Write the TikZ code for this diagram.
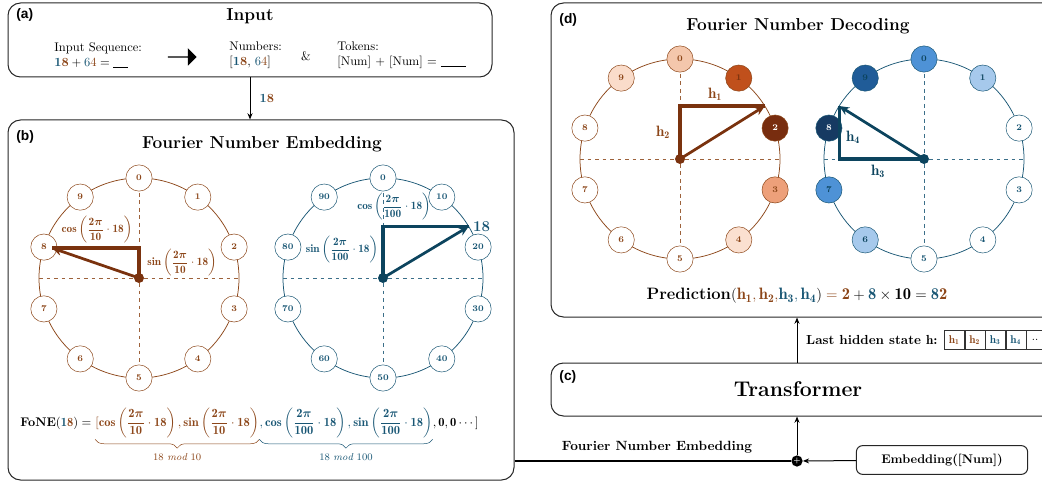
\documentclass[tikz,border=0pt]{standalone}
\usepackage{fontspec}
\usepackage{amsmath}
\newfontfamily\tagfont{Liberation Sans}
\usepackage{xcolor}
\usetikzlibrary{shapes,positioning,fit,calc,arrows.meta,decorations.pathreplacing}

\definecolor{brn}{RGB}{140,70,25}
\definecolor{brndk}{RGB}{122,50,14}
\definecolor{tel}{RGB}{24,86,116}
\definecolor{teldk}{RGB}{12,68,94}
% fills of the decoding rings
\definecolor{bf0}{RGB}{244,199,172}
\definecolor{bf1}{RGB}{192,80,28}
\definecolor{bf2}{RGB}{120,45,15}
\definecolor{bf3}{RGB}{237,160,122}
\definecolor{bf4}{RGB}{251,224,208}
\definecolor{bf9}{RGB}{250,220,202}
\definecolor{tf0}{RGB}{78,146,214}
\definecolor{tf1}{RGB}{166,201,236}
\definecolor{tf8}{RGB}{22,58,98}
\definecolor{tf9}{RGB}{32,92,152}

\newcommand{\hvec}[1]{\mathbf{h}_{\mathbf{#1}}}
% cos/sin term, #1 = cos or sin, #2 = period
\newcommand{\dtrig}[2]{\mathbf{#1}\left(\dfrac{\mathbf{2}\boldsymbol{\pi}}{\mathbf{#2}}\cdot\mathbf{18}\right)}

\begin{document}
\begin{tikzpicture}[x=0.8pt,y=-0.8pt,>={Stealth[length=5pt,width=4pt]},%
		panel/.style={draw=black!85,thick,rounded corners=10pt,inner sep=0pt},
		tag/.style={anchor=west,font=\tagfont\bfseries\fontsize{11}{13}\selectfont},
		title/.style={font=\bfseries\fontsize{13.8}{16}\selectfont},
		num/.style={circle,draw=#1,text=#1,fill=white,minimum size=21pt,inner sep=0pt,font=\scriptsize\bfseries},
		ring/.style={draw=#1,semithick},
		axis/.style={dashed,#1!85,semithick},
		vec/.style={->,#1,line width=2.2pt,>={Stealth[length=8pt,width=7pt]}},
		leg/.style={#1,line width=2.6pt},
		hub/.style={circle,fill=#1,minimum size=8pt,inner sep=0pt},
		fone/.style={inner sep=0pt},
		hbox/.style={draw=black!80,minimum width=16pt,minimum height=15pt,inner sep=0pt,font=\small},
		link/.style={->,thick}]

	\useasboundingbox (0,0) rectangle (1042,485);
	\clip (0,0) rectangle (1042,485);

	% (a) input
	\node[panel,fit={(8,3) (492,77)}] (inp) {};
	\node[tag] at (12,15) {(a)};
	\node[title] at (250,16) {Input};
	\node[align=left,anchor=west] (seq) at (50,55) {Input Sequence:\\ \textbf{\textcolor{tel}{1}\textcolor{brn}{8}}${}+{}$\textcolor{tel}{6}\textcolor{brn}{4}${}={}$\rule[-1pt]{12pt}{0.5pt}};
	\node[single arrow,fill=black,minimum height=23pt,minimum width=14pt,single arrow head extend=3pt,inner sep=0pt] (go) at (182,57) {};
	\node[align=left,anchor=west] (nums) at (225,55) {Numbers:\\ {[}\textbf{\textcolor{tel}{1}\textcolor{brn}{8}}, \textcolor{tel}{6}\textcolor{brn}{4}{]}};
	\node (amp) at (306,56) {\&};
	\node[align=left,anchor=west] (toks) at (333,55) {Tokens:\\ {[}Num{]} + {[}Num{]} = \rule[-1pt]{20pt}{0.5pt}};

	% (b) embedding
	\node[panel,fit={(8,120) (514,480)}] (emb) {};
	\draw[link] (inp.south) -- (inp.south |- emb.north) node[midway,right=4pt,font=\bfseries] {\textcolor{tel}{1}\textcolor{brn}{8}};
	\node[tag] at (12,137) {(b)};
	\node[title] at (262,144) {Fourier Number Embedding};

	\coordinate (LC) at (139,278);
	\draw[ring=brn] (LC) circle[radius=100];
	\draw[axis=brn] ($(LC)+(-100,0)$) -- ($(LC)+(100,0)$);
	\draw[axis=brn] ($(LC)+(0,-100)$) -- ($(LC)+(0,100)$);
	\foreach \k in {0,...,9}
		\node[num=brn] (L\k) at ($(LC)+(36*\k-90:100)$) {\k};
	\coordinate (LT) at ($(LC)+(-161:92)$);
	\draw[leg=brndk] (LC) -- (LC |- LT) -- (LT);
	\draw[vec=brndk] (LC) -- (LT);
	\node[hub=brndk] at (LC) {};
	\node[text=brn,font=\small] (lcos) at (97,230) {$\dtrig{cos}{10}$};
	\node[text=brn,font=\small] (lsin) at (182,263) {$\dtrig{sin}{10}$};

	\coordinate (RC) at (383,278);
	\draw[ring=tel] (RC) circle[radius=100];
	\draw[axis=tel] ($(RC)+(-100,0)$) -- ($(RC)+(100,0)$);
	\draw[axis=tel] ($(RC)+(0,-100)$) -- ($(RC)+(0,100)$);
	\foreach \k in {0,...,9} {
		\pgfmathtruncatemacro\t{10*\k}
		\node[num=tel] (R\k) at ($(RC)+(36*\k-90:100)$) {\t};
	}
	\coordinate (RT) at ($(RC)+(-31:100)$);
	\draw[leg=teldk] (RC) -- (RC |- RT) -- (RT);
	\draw[vec=teldk] (RC) -- (RT);
	\node[hub=teldk] at (RC) {};
	\node[text=tel,font=\bfseries\large,right=0pt of RT] {18};
	\node[text=tel,font=\small] (rcos) at (394,207) {$\dtrig{cos}{100}$};
	\node[text=tel,font=\small] (rsin) at (342,250) {$\dtrig{sin}{100}$};

	% FoNE vector, one node per colour
	\node[fone,anchor=base west] (p0) at (20,426) {\textbf{FoNE}$(\textcolor{tel}{\mathbf{1}}\textcolor{brn}{\mathbf{8}}) = {}$};
	\node[fone,text=brn,anchor=base west] (p1) at (p0.base east) {$[\dtrig{cos}{10}, \dtrig{sin}{10}$};
	\node[fone,text=tel,anchor=base west] (p2) at (p1.base east) {$,\dtrig{cos}{100}, \dtrig{sin}{100}$};
	\node[fone,anchor=base west] (p3) at (p2.base east) {$, \mathbf{0}, \mathbf{0}\cdots]$};
	\draw[brn,decorate,decoration={brace,mirror,amplitude=7pt}] ([yshift=-1pt]p1.south west) -- ([yshift=-1pt]p1.south east)
		node[midway,below=8pt,font=\footnotesize] {$18\ \mathit{mod}\ 10$};
	\draw[tel,decorate,decoration={brace,mirror,amplitude=7pt}] ([yshift=-1pt]p2.south west) -- ([yshift=-1pt]p2.south east)
		node[midway,below=8pt,font=\footnotesize] {$18\ \mathit{mod}\ 100$};

	% (c) transformer
	\node[panel,fit={(551,363) (1060,416)}] (trf) {};
	\node[tag] at (555,377) {(c)};
	\node[font=\bfseries\fontsize{17}{20}\selectfont] at (798,389) {Transformer};

	\node[circle,fill=black,minimum size=9pt,inner sep=0pt,text=white,font=\tiny\bfseries] (plus) at (797,461) {+};
	\node[draw=black!85,thick,rounded corners=5pt,minimum width=137pt,minimum height=23pt,font=\bfseries] (numemb) at (942,460) {Embedding([Num])};
	\draw[line width=1.6pt] (emb.east |- plus) -- (plus);
	\node[font=\bfseries\fontsize{10.7}{13}\selectfont] at (657,447) {Fourier Number Embedding};
	\draw[link] (numemb) -- (plus);
	\draw[link] (plus) -- (plus |- trf.south);

	% (d) decoding
	\node[panel,fit={(551,3) (1060,317)}] (dec) {};
	\draw[link] (trf.north -| plus) -- (dec.south -| plus);
	\node[font=\bfseries\fontsize{10.5}{13}\selectfont,anchor=east] (lhs) at (942,340) {Last hidden state $\mathbf{h}$:};
	\foreach \c [count=\i] in {brn,brn,tel,tel} {
		\ifnum\i=1 \node[hbox,anchor=west](h\i) at (944,340) {\color{\c}$\hvec{\i}$};
		\else\node[hbox,right=0pt of h\z](h\i) {\color{\c}$\hvec{\i}$};
		\fi
		\global\let\z=\i% for chaining the boxes
	}
	\node[hbox,right=0pt of h4,minimum width=14pt] (h5) {..};

	\node[tag] at (555,20) {(d)};
	\node[title] at (798,26) {Fourier Number Decoding};

	\coordinate (DL) at (680,159);
	\draw[ring=brn] (DL) circle[radius=100];
	\draw[axis=brn] ($(DL)+(-100,0)$) -- ($(DL)+(100,0)$);
	\draw[axis=brn] ($(DL)+(0,-100)$) -- ($(DL)+(0,100)$);
	\foreach \k/\f/\t in {0/bf0/brn,1/bf1/brndk,2/bf2/white,3/bf3/brn,4/bf4/brn,5/white/brn,6/white/brn,7/white/brn,8/white/brn,9/bf9/brn}
		\node[num=brn,fill=\f,text=\t] (DL\k) at ($(DL)+(36*\k-90:100)$) {\k};
	\coordinate (DLT) at ($(DL)+(-32:100)$);
	\draw[leg=brndk] (DL) -- (DL |- DLT) -- (DLT);
	\draw[vec=brndk] (DL) -- (DLT);
	\node[hub=brndk] at (DL) {};
	\node[text=brn,font=\large] (h1lab) at (715,94) {$\hvec{1}$};
	\node[text=brn,font=\large] (h2lab) at (663,132) {$\hvec{2}$};

	\coordinate (DR) at (924,159);
	\draw[ring=tel] (DR) circle[radius=100];
	\draw[axis=tel] ($(DR)+(-100,0)$) -- ($(DR)+(100,0)$);
	\draw[axis=tel] ($(DR)+(0,-100)$) -- ($(DR)+(0,100)$);
	\foreach \k/\f/\t in {0/tf0/teldk,1/tf1/teldk,2/white/tel,3/white/tel,4/white/tel,5/white/tel,6/tf1/teldk,7/tf0/teldk,8/tf8/white,9/tf9/teldk}
		\node[num=tel,fill=\f,text=\t] (DR\k) at ($(DR)+(36*\k-90:100)$) {\k};
	\coordinate (DRT) at ($(DR)+(-148:100)$);
	\draw[leg=teldk] (DR) -- (DRT |- DR) -- (DRT);
	\draw[vec=teldk] (DR) -- (DRT);
	\node[hub=teldk] at (DR) {};
	\node[text=teldk,font=\large] (h4lab) at (853,137) {$\hvec{4}$};
	\node[text=teldk,font=\large] (h3lab) at (878,171) {$\hvec{3}$};

	\node[font=\fontsize{13.2}{16}\selectfont] (pred) at (797,296) {\textbf{Prediction}$(\textcolor{brn}{\hvec{1}, \hvec{2},} \textcolor{tel}{\hvec{3}, \hvec{4}}) \textcolor{brn}{{}=\mathbf{2}} + \textcolor{tel}{\mathbf{8}}\times\mathbf{10} = \textcolor{tel}{\mathbf{8}}\textcolor{brn}{\mathbf{2}}$};

\end{tikzpicture}
\end{document}
